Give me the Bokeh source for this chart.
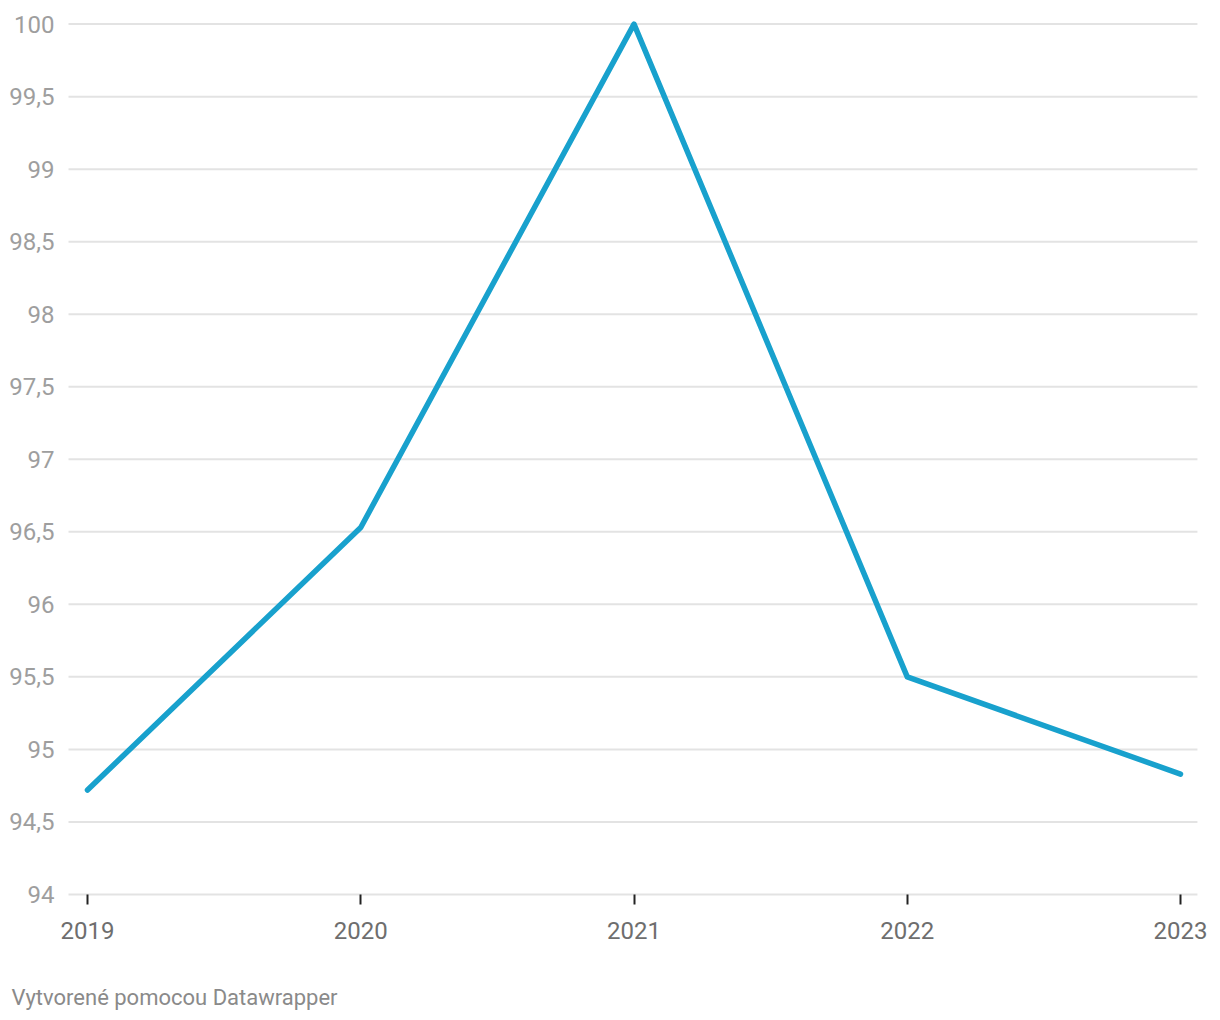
from bokeh.plotting import figure
from bokeh.models import Range1d, FixedTicker, CustomJSTickFormatter, Label
from bokeh.embed import file_html
from bokeh.resources import INLINE

years = [2019, 2020, 2021, 2022, 2023]
values = [94.72, 96.53, 100.0, 95.50, 94.83]
y_ticks = [94, 94.5, 95, 95.5, 96, 96.5, 97, 97.5, 98, 98.5, 99, 99.5, 100]
footer = "Vytvorené pomocou Datawrapper"

# layout constants (data-space extents of the canvas and of the grid)
X_LO, X_HI = 2018.6816, 2023.1171
GRID_LO, GRID_HI = 2018.9305, 2023.062
Y_LO, Y_HI = 93.2, 100.08

p = figure(width=1212, height=1020, output_backend="svg", toolbar_location=None,
           x_range=Range1d(X_LO, X_HI), y_range=Range1d(Y_LO, Y_HI),
           min_border=0, min_border_left=0, min_border_right=0,
           min_border_top=12, min_border_bottom=10)
p.outline_line_color = None
p.background_fill_color = "white"
p.border_fill_color = "white"

# horizontal grid lines at the value ticks
p.segment(x0=[GRID_LO] * len(y_ticks), x1=[GRID_HI] * len(y_ticks), y0=y_ticks, y1=y_ticks,
          line_color="#e3e3e3", line_width=2)

p.line(years, values, line_color="#18a1cd", line_width=5.5, line_cap="round", line_join="round")

# y axis
p.yaxis.fixed_location = GRID_LO
p.yaxis.ticker = FixedTicker(ticks=y_ticks)
p.yaxis.formatter = CustomJSTickFormatter(code="return tick.toString().replace('.', ',');")
p.yaxis.axis_line_color = None
p.yaxis.major_tick_line_color = None
p.yaxis.minor_tick_line_color = None
p.yaxis.major_label_text_font = "Roboto"
p.yaxis.major_label_text_font_size = "24px"
p.yaxis.major_label_text_color = "#9e9e9e"
p.yaxis.major_label_standoff = 8

# x axis, fixed at the bottom of the value scale
p.xaxis.fixed_location = y_ticks[0]
p.xaxis.ticker = FixedTicker(ticks=years)
p.xaxis.axis_line_color = None
p.xaxis.major_tick_line_color = "#222222"
p.xaxis.major_tick_line_width = 2
p.xaxis.major_tick_in = 0
p.xaxis.major_tick_out = 10
p.xaxis.minor_tick_line_color = None
p.xaxis.major_label_text_font = "Roboto"
p.xaxis.major_label_text_font_size = "24px"
p.xaxis.major_label_text_color = "#6e6e6e"
p.xaxis.major_label_standoff = 18

p.xgrid.grid_line_color = None
p.ygrid.grid_line_color = None

p.add_layout(Label(x=2018.722, y=93.29, text=footer,
                   text_font="Roboto", text_font_size="22px", text_color="#8a8a8a",
                   text_baseline="middle", text_align="left"))

open("out.html", "w").write(file_html(p, INLINE))
